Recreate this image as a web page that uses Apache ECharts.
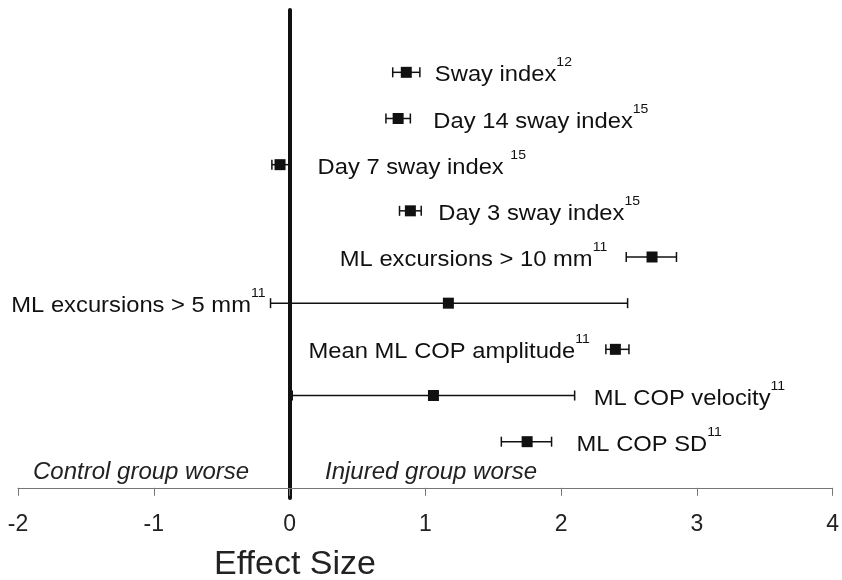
<!DOCTYPE html>
<html>
<head>
<meta charset="utf-8">
<script src="https://cdn.jsdelivr.net/npm/echarts@6/dist/echarts.min.js"></script>
<style>
  html, body { margin: 0; padding: 0; background: #fff; }
  #main { width: 842px; height: 580px; }
</style>
</head>
<body>
<div id="main"></div>
<script>
// 数据
const studies = ['Sway index', 'Day 14 sway index', 'Day 7 sway index ', 'Day 3 sway index',
  'ML excursions > 10 mm', 'ML excursions > 5 mm', 'Mean ML COP amplitude', 'ML COP velocity', 'ML COP SD'];
const refs = ['12', '15', '15', '15', '11', '11', '11', '11', '11'];
const effect = [0.86, 0.80, -0.07, 0.89, 2.67, 1.17, 2.40, 1.06, 1.75];
const lower = [0.76, 0.71, -0.13, 0.81, 2.48, -0.14, 2.33, 0.02, 1.56];
const upper = [0.96, 0.89, 0.00, 0.97, 2.85, 2.49, 2.50, 2.10, 1.93];
const xTicks = [-2, -1, 0, 1, 2, 3, 4];

// 标签位置（样式）
const labelSide = ['right', 'right', 'right', 'right', 'left', 'left', 'left', 'right', 'right'];
const labelGap = [15, 23, 28, 17, 19, 5, 16, 19, 25];

let rows = studies.map((s, i) => [effect[i], lower[i], upper[i], studies.length - i]);

const FONT = 'Liberation Sans, Arial, sans-serif';

function renderItem(params, api) {
    let i = params.dataIndex;
    let mid = api.coord([api.value(0), api.value(3)]);
    let lo = api.coord([api.value(1), api.value(3)]);
    let hi = api.coord([api.value(2), api.value(3)]);
    let y = mid[1];
    let cap = 5;
    let sq = 11;
    let lineStyle = { stroke: '#111', lineWidth: 1.5 };
    let side = labelSide[i];
    let tx = side === 'right' ? hi[0] + labelGap[i] : lo[0] - labelGap[i];
    if (i === 2) tx = api.coord([0, 0])[0] + labelGap[i];
    return {
        type: 'group',
        children: [
            { type: 'line', shape: { x1: lo[0], y1: y, x2: hi[0], y2: y }, style: lineStyle },
            { type: 'line', shape: { x1: lo[0], y1: y - cap, x2: lo[0], y2: y + cap }, style: lineStyle },
            { type: 'line', shape: { x1: hi[0], y1: y - cap, x2: hi[0], y2: y + cap }, style: lineStyle },
            { type: 'rect', shape: { x: mid[0] - sq / 2, y: y - sq / 2, width: sq, height: sq }, style: { fill: '#111' } },
            {
                type: 'text',
                x: tx, y: y - 1,
                scaleX: 1.08, scaleY: 1,
                style: {
                    x: 0, y: 0,
                    text: '{t|' + studies[i] + '}{s|' + refs[i] + '}',
                    align: side === 'right' ? 'left' : 'right',
                    verticalAlign: 'middle',
                    rich: {
                        t: { fontSize: 22, fontFamily: FONT, fill: '#111', lineHeight: 30, verticalAlign: 'bottom' },
                        s: { fontSize: 13, fontFamily: FONT, fill: '#111', lineHeight: 30, verticalAlign: 'top' }
                    }
                }
            }
        ]
    };
}

let chart = echarts.init(document.getElementById('main'));
chart.setOption({
    animation: false,
    backgroundColor: '#fff',
    grid: { left: 18, right: 6, top: 10, bottom: 82 },
    xAxis: {
        type: 'value', min: xTicks[0], max: xTicks[xTicks.length - 1], interval: 1,
        axisLine: { onZero: true, lineStyle: { color: '#777', width: 1.2 } },
        axisTick: { inside: false, length: 8, lineStyle: { color: '#777' } },
        axisLabel: { fontSize: 23, color: '#222', margin: 15, fontFamily: FONT },
        splitLine: { show: false }
    },
    yAxis: {
        type: 'value', min: -0.22, max: 10.35,
        axisLine: { show: true, onZero: true, lineStyle: { color: '#111', width: 4 } },
        axisTick: { show: false },
        axisLabel: { show: false },
        splitLine: { show: false }
    },
    graphic: [
        { type: 'text', left: 33, top: 460, style: { text: 'Control group worse', font: 'italic 24px ' + FONT, fill: '#222' } },
        { type: 'text', left: 325, top: 460, style: { text: 'Injured group worse', font: 'italic 24px ' + FONT, fill: '#222' } },
        { type: 'text', x: 295, y: 565, style: { text: 'Effect Size', font: '34px ' + FONT, fill: '#222', align: 'center', verticalAlign: 'middle' } }
    ],
    series: [{
        type: 'custom',
        renderItem: renderItem,
        data: rows,
        encode: { x: [0, 1, 2], y: 3 }
    }]
});
</script>
</body>
</html>
